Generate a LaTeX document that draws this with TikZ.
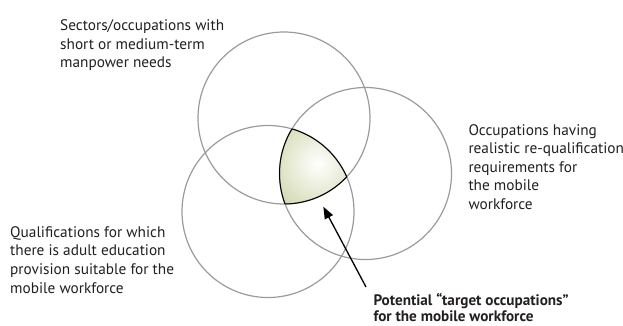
\documentclass[tikz,border=0pt]{standalone}
\usepackage{fontspec}
\setmainfont{PT Sans}
\usetikzlibrary{arrows.meta}
\definecolor{ink}{HTML}{231F20}
\definecolor{ring}{HTML}{9B9B9B}
\definecolor{venn}{HTML}{C4CD98}
% left-aligned stack of lines whose baseline is that of the first line
\newcommand{\lines}[1]{\vtop{\let\\\cr\halign{##\hfil\cr#1\crcr}}}
\tikzset{
  ring/.style={draw=ring, line width=1.2pt},
  label/.style={anchor=base west, inner sep=0pt, text=ink,
    font=\fontsize{15.3}{18.6}\selectfont},
  boldlabel/.style={label, font=\fontsize{15.2}{15.8}\selectfont\bfseries},
  pointer/.style={draw=black, line width=1.3pt, -{Triangle[length=12pt,width=9pt]}},
}
\begin{document}
\begin{tikzpicture}[x=1pt, y=-1pt]
\useasboundingbox (0,0) rectangle (623,325);
% centres of the three sets
\coordinate (ca) at (284,118);
\coordinate (cb) at (365.5,173.5);
\coordinate (cc) at (268,211.5);
\def\rad{86}

% shaded triple intersection
\begin{scope}
  \clip (ca) circle (\rad);
  \clip (cb) circle (\rad);
  \clip (cc) circle (\rad);
  \shade[inner color=white, outer color=venn] (318,164) circle (68);
\end{scope}

% the three sets
\draw[ring] (ca) circle (\rad);
\draw[ring] (cb) circle (\rad);
\draw[ring] (cc) circle (\rad);

% outline of the intersection
\begin{scope}
  \clip (ca) circle (\rad); \clip (cb) circle (\rad);
  \draw[black, line width=1pt] (cc) circle (\rad);
\end{scope}
\begin{scope}
  \clip (cb) circle (\rad); \clip (cc) circle (\rad);
  \draw[black, line width=1pt] (ca) circle (\rad);
\end{scope}
\begin{scope}
  \clip (ca) circle (\rad); \clip (cc) circle (\rad);
  \draw[black, line width=1pt] (cb) circle (\rad);
\end{scope}

% set descriptions
\node[label] (sectors) at (60,30.7) {\lines{Sectors/occupations with\\short or medium-term\\manpower needs}};
\node[label] (occup) at (468.3,135) {\lines{Occupations having\\realistic re-qualification\\requirements for\\the mobile\\workforce}};
\node[label] (quals) at (10,237.3) {\lines{Qualifications for which\\there is adult education\\provision suitable for the\\mobile workforce}};
\node[boldlabel] (target) at (373.3,305.8) {\lines{Potential “target occupations”\\for the mobile workforce}};

% pointer to the intersection
\coordinate (tail) at (366,287);
\coordinate (tip) at (323.3,206.7);
\draw[pointer] (tail) -- (tip);
\end{tikzpicture}
\end{document}
